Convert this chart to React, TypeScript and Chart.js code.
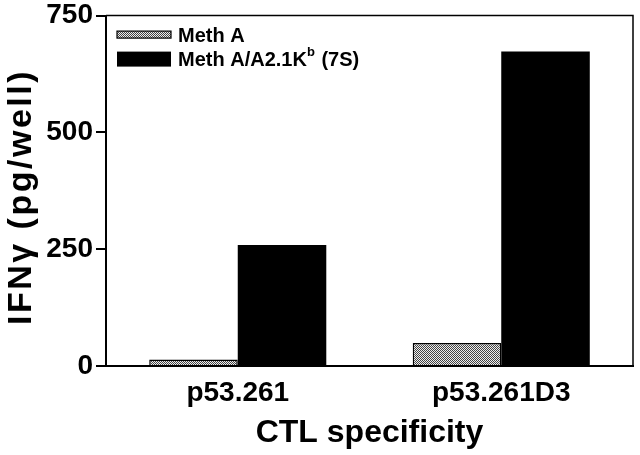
import { useEffect, useRef } from 'react';
import { Chart, registerables } from 'chart.js';

Chart.register(...registerables);

const categories = ['p53.261', 'p53.261D3'];
const methA = [14, 49];
const methAA21Kb = [259, 673];
const seriesLabels = ['Meth A', 'Meth A/A2.1K^b (7S)'];
const yTicks = [0, 250, 500, 750];
const yTitle = 'IFNγ (pg/well)';
const xTitle = 'CTL specificity';

const FONT = '"Liberation Sans", Arial, Helvetica, sans-serif';

function makePattern(): CanvasPattern | string {
  const c = document.createElement('canvas');
  c.width = 2;
  c.height = 2;
  const ctx = c.getContext('2d');
  if (!ctx) return '#999';
  ctx.fillStyle = '#eeeeee';
  ctx.fillRect(0, 0, 2, 2);
  ctx.fillStyle = '#444444';
  ctx.fillRect(0, 0, 1, 1);
  ctx.fillRect(1, 1, 1, 1);
  return ctx.createPattern(c, 'repeat') || '#999';
}

const framePlugin = {
  id: 'frame',
  afterDraw(chart: any) {
    const { ctx, chartArea } = chart;
    ctx.save();
    ctx.strokeStyle = '#000';
    ctx.lineWidth = 1.5;
    ctx.beginPath();
    ctx.moveTo(chartArea.left, chartArea.top);
    ctx.lineTo(chartArea.right, chartArea.top);
    ctx.lineTo(chartArea.right, chartArea.bottom);
    ctx.stroke();
    ctx.restore();
  },
};

const yTitlePlugin = {
  id: 'yTitleSpaced',
  afterDraw(chart: any) {
    const { ctx } = chart;
    ctx.save();
    ctx.translate(22, 197);
    ctx.rotate(-Math.PI / 2);
    ctx.font = `bold 34px ${FONT}`;
    (ctx as any).letterSpacing = '2.5px';
    ctx.fillStyle = '#000';
    ctx.textAlign = 'center';
    ctx.textBaseline = 'middle';
    ctx.fillText(yTitle, 0, 0);
    ctx.restore();
  },
};

const legendPlugin = {
  id: 'insideLegend',
  afterDraw(chart: any) {
    const { ctx, chartArea } = chart;
    const datasets = chart.data.datasets;
    const x0 = chartArea.left + 11;
    const swW = 54;
    const rows = [
      { cy: chartArea.top + 19, h: 7, ty: chartArea.top + 21 },
      { cy: chartArea.top + 43.5, h: 15, ty: chartArea.top + 45 },
    ];
    ctx.save();
    datasets.forEach((ds: any, i: number) => {
      const r = rows[i];
      ctx.fillStyle = ds.backgroundColor;
      ctx.fillRect(x0, r.cy - r.h / 2, swW, r.h);
      if (ds.borderWidth) {
        ctx.strokeStyle = '#000';
        ctx.lineWidth = 1.2;
        ctx.strokeRect(x0, r.cy - r.h / 2, swW, r.h);
      }
      let tx = x0 + swW + 7;
      const label: string = ds.label;
      const parts = label.split(/\^(.)/);
      ctx.fillStyle = '#000';
      ctx.textBaseline = 'middle';
      ctx.textAlign = 'left';
      parts.forEach((p, k) => {
        const sup = k % 2 === 1;
        ctx.font = sup ? `bold 13px ${FONT}` : `bold 20px ${FONT}`;
        ctx.fillText(p, tx, sup ? r.ty - 8 : r.ty);
        tx += ctx.measureText(p).width + (sup ? 1 : 0);
      });
    });
    ctx.restore();
  },
};

export default function App() {
  const ref = useRef<HTMLCanvasElement | null>(null);

  useEffect(() => {
    document.body.style.margin = '0';
    const canvas = ref.current;
    if (!canvas) return;
    const pattern = makePattern();
    const chart = new Chart(canvas, {
      type: 'bar',
      data: {
        labels: categories,
        datasets: [
          {
            label: seriesLabels[0],
            data: methA,
            backgroundColor: pattern as any,
            borderColor: '#000',
            borderWidth: 1.5,
            categoryPercentage: 0.672,
            barPercentage: 1.0,
          },
          {
            label: seriesLabels[1],
            data: methAA21Kb,
            backgroundColor: '#000',
            borderColor: '#000',
            borderWidth: 0,
            categoryPercentage: 0.672,
            barPercentage: 1.0,
          },
        ],
      },
      options: {
        animation: false,
        responsive: true,
        maintainAspectRatio: false,
        layout: { padding: { top: 13, right: 7, left: 0, bottom: 0 } },
        plugins: {
          legend: { display: false },
          tooltip: { enabled: false },
        },
        scales: {
          x: {
            grid: { display: false },
            border: { display: true, color: '#000', width: 2 },
            ticks: {
              color: '#000',
              padding: 2,
              font: { family: FONT, size: 28, weight: 'bold' },
            },
            title: {
              display: true,
              text: xTitle,
              color: '#000',
              font: { family: FONT, size: 32, weight: 'bold' },
              padding: { top: 0, bottom: 3 },
            },
            afterFit(scale: any) {
              scale.height = 89;
            },
          },
          y: {
            min: 0,
            max: 750,
            afterBuildTicks(scale: any) {
              scale.ticks = yTicks.map((v) => ({ value: v }));
            },
            grid: {
              display: true,
              drawOnChartArea: false,
              drawTicks: true,
              tickLength: 10,
              color: '#000',
              lineWidth: 2,
            },
            border: { display: true, color: '#000', width: 2 },
            ticks: {
              color: '#000',
              padding: 3,
              font: { family: FONT, size: 28, weight: 'bold', lineHeight: 0.9 },
            },
            title: { display: false, text: yTitle },
            afterFit(scale: any) {
              scale.width = 106;
            },
          },
        },
      },
      plugins: [framePlugin, legendPlugin, yTitlePlugin],
    });
    return () => chart.destroy();
  }, []);

  return (
    <div style={{ width: 640, height: 455, position: 'relative', background: '#fff' }}>
      <canvas ref={ref} />
    </div>
  );
}
